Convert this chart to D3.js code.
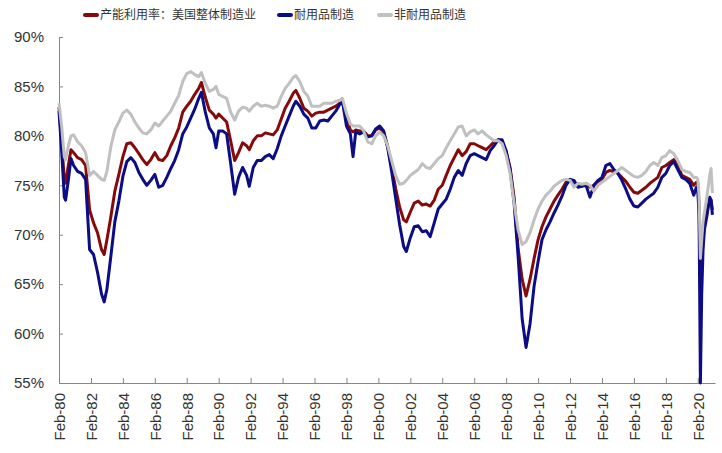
<!DOCTYPE html>
<html>
<head>
  <meta charset="utf-8">
  <title>US Capacity Utilization</title>
  <style>
    body { margin: 0; background: #fff; }
    .axis path, .axis line { stroke: #868686; }
    .axis text { font-family: Arial, "Liberation Sans", sans-serif; font-size: 15px; fill: #333; }
    .legend text { font-family: "Noto Sans CJK SC", sans-serif; font-size: 12px; fill: #333; }
    .series { fill: none; stroke-width: 3px; stroke-linejoin: round; }
  </style>
</head>
<body>
  <div id="chart"></div>

  <script src="https://d3js.org/d3.v7.min.js"></script>
  <script>
    // month of each reading (roughly quarterly)
    const months = [
      "1980-02","1980-04","1980-06","1980-07","1980-09","1980-11",
      "1981-01","1981-04","1981-07","1981-10",
      "1982-01","1982-04","1982-07","1982-10","1982-12",
      "1983-02","1983-05","1983-08","1983-11",
      "1984-02","1984-05","1984-08","1984-11",
      "1985-02","1985-05","1985-08","1985-11",
      "1986-02","1986-05","1986-08","1986-11",
      "1987-02","1987-05","1987-08","1987-11",
      "1988-02","1988-05","1988-08","1988-11",
      "1989-01","1989-04","1989-07","1989-10","1989-12",
      "1990-02","1990-05","1990-08","1990-11",
      "1991-02","1991-05","1991-08","1991-11",
      "1992-01","1992-04","1992-07","1992-10",
      "1993-01","1993-04","1993-07","1993-10",
      "1994-01","1994-04","1994-07","1994-10","1994-12",
      "1995-03","1995-06","1995-09","1995-12",
      "1996-03","1996-06","1996-09","1996-12",
      "1997-03","1997-06","1997-09","1997-11",
      "1998-02","1998-05","1998-07","1998-09","1998-12",
      "1999-03","1999-06","1999-09","1999-12",
      "2000-03","2000-06","2000-09","2000-12",
      "2001-03","2001-06","2001-09","2001-11",
      "2002-02","2002-05","2002-08","2002-11",
      "2003-02","2003-05","2003-08","2003-11",
      "2004-02","2004-05","2004-08","2004-11",
      "2005-02","2005-05","2005-08","2005-11",
      "2006-02","2006-05","2006-08","2006-11",
      "2007-02","2007-05","2007-08","2007-11",
      "2008-02","2008-05","2008-08","2008-11",
      "2009-02","2009-05","2009-08","2009-11",
      "2010-02","2010-05","2010-08","2010-11",
      "2011-02","2011-05","2011-08","2011-11",
      "2012-02","2012-05","2012-08","2012-11",
      "2013-02","2013-05","2013-08","2013-11",
      "2014-02","2014-05","2014-08","2014-11",
      "2015-02","2015-05","2015-08","2015-11",
      "2016-02","2016-05","2016-08","2016-11",
      "2017-02","2017-05","2017-08","2017-11",
      "2018-02","2018-05","2018-08","2018-11",
      "2019-02","2019-05","2019-08","2019-11",
      "2020-01","2020-02","2020-03","2020-04","2020-05","2020-06","2020-07","2020-09","2020-11","2020-12",
      "2021-01"
    ];

    // 产能利用率：美国整体制造业 (%)
    const totalMfg = [
      82.9,79.5,75.6,75.2,77.0,78.6,
      78.3,77.8,77.6,77.0,
      72.5,71.2,70.2,68.5,68.0,
      69.5,71.8,74.4,76.1,
      77.9,79.2,79.3,78.8,
      78.2,77.6,77.1,77.6,
      78.3,77.6,77.5,78.0,
      79.0,79.8,80.8,82.4,
      83.0,83.5,84.2,84.8,
      85.4,83.9,82.6,82.2,81.8,
      82.2,81.8,81.4,79.5,
      77.5,78.3,79.3,79.0,
      78.6,79.5,80.0,80.0,
      80.3,80.2,80.1,80.6,
      81.7,82.8,83.5,84.3,84.6,
      83.8,82.8,82.5,82.0,
      82.3,82.4,82.4,82.6,
      82.8,83.0,83.3,83.4,
      81.8,80.6,80.4,80.6,80.5,
      80.5,80.0,80.0,80.6,
      80.8,80.3,78.9,76.8,
      74.7,72.8,71.5,71.3,
      72.3,73.2,73.4,73.0,
      73.1,72.9,73.5,74.6,
      75.0,76.0,77.0,77.8,
      78.6,78.0,78.4,79.2,
      79.2,79.0,78.8,78.6,
      79.0,79.4,79.6,79.3,
      78.4,76.8,73.8,68.6,
      65.5,63.8,65.5,67.6,
      69.5,70.8,71.8,72.6,
      73.4,74.0,74.6,75.3,
      75.6,75.3,75.0,75.0,
      75.2,74.8,75.0,75.4,
      75.6,76.3,76.5,76.4,
      76.2,75.8,75.4,74.8,
      74.3,74.2,74.5,74.8,
      75.2,75.5,75.8,76.8,
      77.0,77.3,77.6,77.0,
      76.0,75.8,75.6,75.0,
      75.3,75.2,73.0,64.5,67.0,69.5,70.8,72.5,73.4,73.5,
      72.5
    ];

    // 耐用品制造 (%)
    const durableMfg = [
      82.5,78.5,73.8,73.5,75.5,77.7,
      77.0,76.4,76.2,75.6,
      68.5,68.0,66.2,64.0,63.2,
      64.5,67.8,71.3,73.4,
      75.9,77.4,77.8,77.3,
      76.3,75.6,75.0,75.5,
      76.1,74.8,75.0,75.8,
      76.7,77.5,78.6,80.2,
      80.9,81.8,82.7,83.8,
      84.4,82.4,80.8,80.2,78.8,
      80.5,80.5,80.2,77.2,
      74.1,75.8,76.8,76.0,
      74.9,76.8,77.5,77.5,
      77.9,78.1,77.7,78.7,
      80.0,81.0,82.0,83.0,83.5,
      83.0,82.2,81.8,80.8,
      80.8,81.5,81.6,81.5,
      82.0,82.5,83.2,83.5,
      81.0,80.2,77.9,80.4,80.2,
      80.4,79.9,80.0,80.7,
      81.0,80.5,78.8,76.4,
      73.7,71.0,68.8,68.3,
      69.7,70.8,70.9,70.3,
      70.4,69.8,71.2,72.6,
      73.1,73.6,74.6,75.8,
      76.5,76.0,77.2,78.0,
      78.2,78.0,77.8,77.6,
      78.5,79.0,79.6,79.6,
      78.5,76.6,73.2,67.8,
      61.5,58.6,61.0,64.8,
      67.3,69.5,70.5,71.3,
      72.2,73.0,73.9,75.0,
      75.6,75.5,74.8,74.9,
      75.0,73.8,75.0,75.5,
      75.8,77.0,77.2,76.6,
      76.2,75.5,74.6,73.6,
      72.9,72.8,73.2,73.6,
      73.9,74.2,74.8,75.8,
      76.2,77.0,77.4,76.6,
      75.8,75.6,75.2,74.0,
      74.8,74.5,72.0,55.0,64.0,68.5,70.5,72.0,73.8,73.5,
      72.0
    ];

    // 非耐用品制造 (%)
    const nondurableMfg = [
      83.3,81.0,77.9,77.6,79.0,80.0,
      80.1,79.4,79.0,78.3,
      76.0,76.4,76.0,75.6,75.5,
      76.4,78.9,80.6,81.4,
      82.3,82.6,82.2,81.4,
      80.8,80.3,80.2,80.6,
      81.3,81.0,81.5,82.0,
      82.5,83.3,84.1,85.5,
      86.3,86.5,86.2,86.0,
      86.4,85.3,84.5,84.7,85.0,
      84.2,84.0,83.8,82.4,
      81.6,82.5,82.9,82.8,
      82.5,83.0,83.3,83.0,
      83.1,83.0,82.8,83.0,
      84.0,84.8,85.3,85.9,86.1,
      85.5,84.5,84.0,83.0,
      83.0,83.0,83.3,83.3,
      83.3,83.5,83.6,83.8,
      82.3,81.2,81.0,81.0,81.0,
      80.5,79.4,79.2,80.0,
      80.4,80.0,79.0,77.5,
      76.0,75.1,75.2,75.5,
      76.0,76.3,76.6,77.2,
      76.8,76.7,77.2,77.7,
      78.0,78.8,79.5,80.2,
      80.9,81.0,80.0,80.4,
      80.6,80.2,80.5,80.1,
      79.8,79.5,79.5,79.2,
      78.0,76.2,73.2,70.5,
      69.0,69.3,70.2,71.5,
      72.6,73.4,74.0,74.4,
      74.9,75.2,75.5,75.6,
      75.5,74.8,75.2,75.1,
      75.2,75.0,74.4,75.0,
      75.3,75.6,75.9,76.2,
      76.5,76.8,76.5,76.2,
      75.9,75.8,76.0,76.4,
      77.0,77.3,77.0,77.8,
      78.0,78.5,78.2,77.5,
      76.6,76.4,76.3,75.8,
      75.8,75.6,74.0,67.6,69.5,71.3,72.2,74.0,76.0,76.7,
      74.2
    ];

    const seriesNames = ["产能利用率：美国整体制造业", "耐用品制造", "非耐用品制造"];
    const seriesColors = ["#850a0a", "#0c0c85", "#c0c0c0"];
    const yTicks = [55, 60, 65, 70, 75, 80, 85, 90];
    const xTickLabels = [
      "Feb-80","Feb-82","Feb-84","Feb-86","Feb-88","Feb-90","Feb-92","Feb-94",
      "Feb-96","Feb-98","Feb-00","Feb-02","Feb-04","Feb-06","Feb-08","Feb-10",
      "Feb-12","Feb-14","Feb-16","Feb-18","Feb-20"
    ];

    const width = 722, height = 453;
    const plotLeft = 59, plotRight = 715, plotTop = 37, plotBottom = 383;

    const parseMonth = d3.timeParse("%Y-%m");
    const parseTick = d3.timeParse("%b-%y");
    const dates = months.map(parseMonth);

    const svg = d3.select("#chart")
      .append("svg")
      .attr("width", width)
      .attr("height", height);

    const xScale = d3.scaleTime()
      .domain([parseMonth("1980-02"), parseMonth("2021-03")])
      .range([plotLeft, plotRight]);

    const yScale = d3.scaleLinear()
      .domain([55, 90])
      .range([plotBottom, plotTop]);

    // x axis with ticks pointing up, labels rotated
    const xAxis = d3.axisBottom(xScale)
      .tickValues(xTickLabels.map(parseTick))
      .tickFormat(d3.timeFormat("%b-%y"))
      .tickSizeInner(-5)
      .tickSizeOuter(0);

    svg.append("g")
      .attr("class", "axis x-axis")
      .attr("transform", "translate(0," + plotBottom + ")")
      .call(xAxis)
      .selectAll("text")
      .attr("transform", "rotate(-90)")
      .attr("text-anchor", "end")
      .attr("x", -10)
      .attr("y", 0)
      .attr("dy", "0.35em");

    const yAxis = d3.axisLeft(yScale)
      .tickValues(yTicks)
      .tickFormat(d => d + "%")
      .tickSizeInner(-4)
      .tickSizeOuter(0)
      .tickPadding(15);

    svg.append("g")
      .attr("class", "axis y-axis")
      .attr("transform", "translate(" + plotLeft + ",0)")
      .call(yAxis);

    const line = d3.line()
      .x((d, i) => xScale(dates[i]))
      .y(d => yScale(d));

    [totalMfg, durableMfg, nondurableMfg].forEach((values, i) => {
      svg.append("path")
        .attr("class", "series")
        .attr("stroke", seriesColors[i])
        .attr("d", line(values));
    });

    // legend
    const legendX = [83, 277, 377];
    const legend = svg.append("g").attr("class", "legend");
    seriesNames.forEach((name, i) => {
      legend.append("line")
        .attr("x1", legendX[i] + 2).attr("x2", legendX[i] + 14)
        .attr("y1", 15).attr("y2", 15)
        .attr("stroke", seriesColors[i])
        .attr("stroke-width", 4)
        .attr("stroke-linecap", "round");
      legend.append("text")
        .attr("x", legendX[i] + 17)
        .attr("y", 15)
        .attr("dy", "0.35em")
        .text(name);
    });
  </script>
</body>
</html>
